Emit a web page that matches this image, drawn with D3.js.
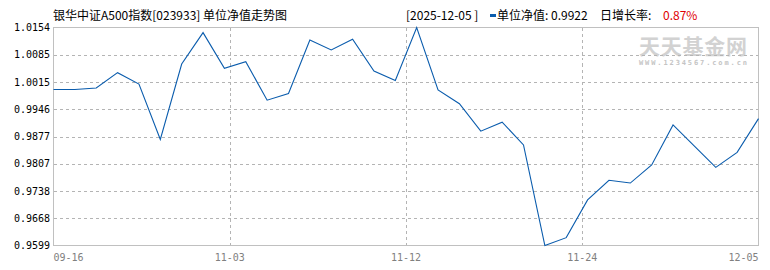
<!DOCTYPE html>
<html><head><meta charset="utf-8">
<script src="https://cdn.jsdelivr.net/npm/d3@7"></script>
<style>body{margin:0;background:#fff;} svg{display:block;}</style>
</head><body><svg id="c" width="770" height="270"></svg>
<script>
// ---- data ----
const dates = ['09-16','09-19','09-26','09-30','10-10','10-17','10-24','10-31',
  '11-03','11-04','11-05','11-06','11-07','11-08','11-10','11-11',
  '11-12','11-13','11-14','11-17','11-18','11-19','11-20','11-21',
  '11-24','11-25','11-26','11-27','11-28','12-01','12-02','12-03','12-04','12-05'];
const nav = [0.9996,0.9996,1.0000,1.0039,1.0010,0.9869,1.0061,1.0141,
  1.0050,1.0067,0.9969,0.9986,1.0122,1.0097,1.0124,1.0043,
  1.0019,1.0154,0.9995,0.9960,0.9890,0.9913,0.9855,0.9599,
  0.9619,0.9715,0.9765,0.9758,0.9804,0.9906,0.9852,0.9798,0.9836,0.9922];
const yTickLabels = ['0.9599','0.9668','0.9738','0.9807','0.9877','0.9946','1.0015','1.0085','1.0154'];
const titleText = '银华中证A500指数[023933] 单位净值走势图';
const latestDate = '2025-12-05';
const latestNav = '0.9922';
const dailyGrowth = '0.87%';

// ---- layout ----
const svg = d3.select('#c');
const X0 = 53.5, X1 = 758.5, Y0 = 27.5, Y1 = 245.5;
const n = nav.length;
const x = d3.scaleLinear().domain([0, n - 1]).range([X0, X1]);
const yMin = d3.min(nav), yMax = d3.max(nav);
const y = d3.scaleLinear().domain([yMin, yMax]).range([Y1, Y0]);
const yTicks = d3.range(yTickLabels.length).map(k => yMin + k * (yMax - yMin) / (yTickLabels.length - 1));
const xTicks = d3.range(5).map(k => k * (n - 1) / 4);

const monoFont = '"DejaVu Sans Mono", monospace';
const cjkFont = '"Noto Sans CJK SC", sans-serif';

// watermark
const wm = svg.append('g');
wm.append('text').attr('x', 639).attr('y', 54).attr('font-family', cjkFont)
  .attr('font-size', 21).attr('font-weight', 'bold').attr('fill', '#d2d2d2')
  .attr('textLength', 108).attr('lengthAdjust', 'spacing').text('天天基金网');
wm.append('text').attr('x', 639).attr('y', 65).attr('font-family', monoFont)
  .attr('font-size', 7).attr('font-weight', 'bold').attr('fill', '#c4c4c4')
  .attr('textLength', 108).attr('lengthAdjust', 'spacing').text('WWW.1234567.com.cn');

// gridlines
const grid = svg.append('g').attr('stroke', '#b4b4b4').attr('stroke-dasharray', '3,3')
  .attr('shape-rendering', 'crispEdges');
grid.selectAll('line.h').data(yTicks.slice(1, -1)).join('line').attr('class', 'h')
  .attr('x1', X0).attr('x2', X1).attr('y1', d => Math.round(y(d)) + 0.5).attr('y2', d => Math.round(y(d)) + 0.5);
grid.selectAll('line.v').data(xTicks.slice(1, -1)).join('line').attr('class', 'v')
  .attr('y1', Y0).attr('y2', Y1).attr('x1', d => Math.round(x(d)) + 0.5).attr('x2', d => Math.round(x(d)) + 0.5);

// border
svg.append('rect').attr('x', X0).attr('y', Y0).attr('width', X1 - X0).attr('height', Y1 - Y0)
  .attr('fill', 'none').attr('stroke', '#c0c0c0').attr('shape-rendering', 'crispEdges');

// y labels
svg.append('g').selectAll('text').data(yTicks).join('text')
  .attr('x', 50).attr('y', d => y(d)).attr('dy', '0.35em').attr('text-anchor', 'end')
  .attr('font-family', monoFont).attr('font-size', 10).attr('fill', '#000')
  .text((d, i) => yTickLabels[i]);

// x labels
svg.append('g').selectAll('text').data(xTicks).join('text')
  .attr('x', d => x(d)).attr('y', 261)
  .attr('text-anchor', (d, i) => i === 0 ? 'start' : (i === xTicks.length - 1 ? 'end' : 'middle'))
  .attr('font-family', monoFont).attr('font-size', 10).attr('fill', '#808080')
  .text(d => dates[Math.floor(d)]);

// line
const line = d3.line().x((d, i) => x(i)).y(d => y(d));
svg.append('path').datum(nav).attr('d', line).attr('fill', 'none')
  .attr('stroke', '#0a5cad').attr('stroke-width', 1.1);

// header
svg.append('text').attr('x', 53).attr('y', 20).attr('font-family', cjkFont).attr('font-size', 12)
  .attr('fill', '#000').text(titleText);
svg.append('text').attr('x', 406).attr('y', 20).attr('font-family', cjkFont).attr('font-size', 12)
  .attr('fill', '#000').text('[' + latestDate + ' ]');
svg.append('rect').attr('x', 490).attr('y', 14).attr('width', 6).attr('height', 3).attr('fill', '#0a5cad');
svg.append('text').attr('x', 497).attr('y', 20).attr('font-family', cjkFont).attr('font-size', 12)
  .attr('fill', '#000').text('单位净值: ' + latestNav);
svg.append('text').attr('x', 600).attr('y', 20).attr('font-family', cjkFont).attr('font-size', 12)
  .attr('fill', '#000').text('日增长率:');
svg.append('text').attr('x', 663).attr('y', 20).attr('font-family', cjkFont).attr('font-size', 12)
  .attr('fill', '#e00000').text(dailyGrowth);
</script></body></html>
